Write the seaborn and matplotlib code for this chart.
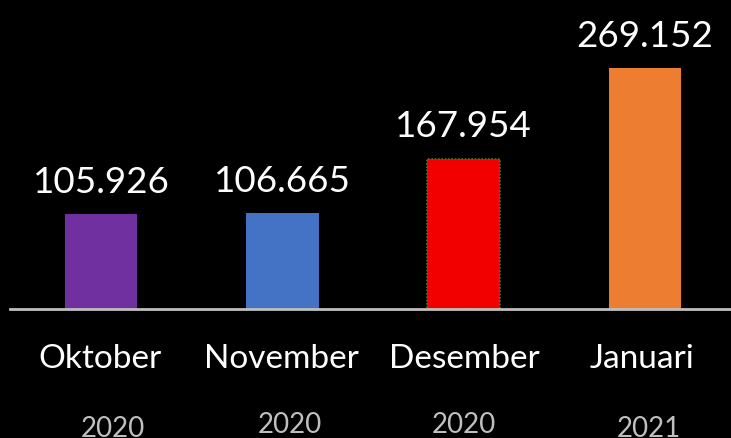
import matplotlib
matplotlib.use("Agg")
import matplotlib.pyplot as plt
import seaborn as sns
import pandas as pd

months = ["Oktober", "November", "Desember", "Januari"]
years = ["2020", "2020", "2020", "2021"]
values = [105.926, 106.665, 167.954, 269.152]
colors = ["#7030A0", "#4472C4", "#F20000", "#ED7D31"]

df = pd.DataFrame({"bulan": months, "nilai": values})

sns.set_style("dark")
plt.rcParams["font.family"] = ["Lato", "DejaVu Sans"]

fig = plt.figure(figsize=(7.31, 4.39), dpi=100, facecolor="black")
ax = fig.add_axes([10 / 731, 129 / 439, 721 / 731, 310 / 439])
ax.set_facecolor("black")

sns.barplot(data=df, x="bulan", y="nilai", hue="bulan", palette=colors,
            width=0.4, legend=False, saturation=1, linewidth=0, ax=ax)

# red bar has a dotted green border
red = ax.patches[2]
red.set_edgecolor("#3a7d2a")
red.set_linestyle((0, (1, 1)))
red.set_linewidth(1.2)

ax.set_xlim(-0.502, 3.474)
ax.set_ylim(0, 346)

for i, v in enumerate(values):
    ax.annotate(f"{v:.3f}", (i, v), xytext=(0, 16), textcoords="offset points",
                ha="center", va="baseline", color="white", fontsize=26.5)

ax.set_xticks([])
ax.set_yticks([])
ax.set_xlabel("")
ax.set_ylabel("")
for s in ["top", "left", "right"]:
    ax.spines[s].set_visible(False)
ax.spines["bottom"].set_color("#bfbfbf")
ax.spines["bottom"].set_linewidth(2)

tr = ax.get_xaxis_transform()
month_dx = [-0.005, -0.005, 0.005, -0.015]
year_dx = [0.066, 0.044, 0.0, 0.022]
year_y = [-127 / 310, -123 / 310, -123 / 310, -127 / 310]
for i, (m, y) in enumerate(zip(months, years)):
    ax.text(i + month_dx[i], -58 / 310, m, transform=tr, ha="center",
            va="baseline", color="white", fontsize=24)
    ax.text(i + year_dx[i], year_y[i], y, transform=tr, ha="center",
            va="baseline", color="#bfbfbf", fontsize=20, clip_on=False)

fig.savefig("out.png", dpi=100, facecolor="black")
